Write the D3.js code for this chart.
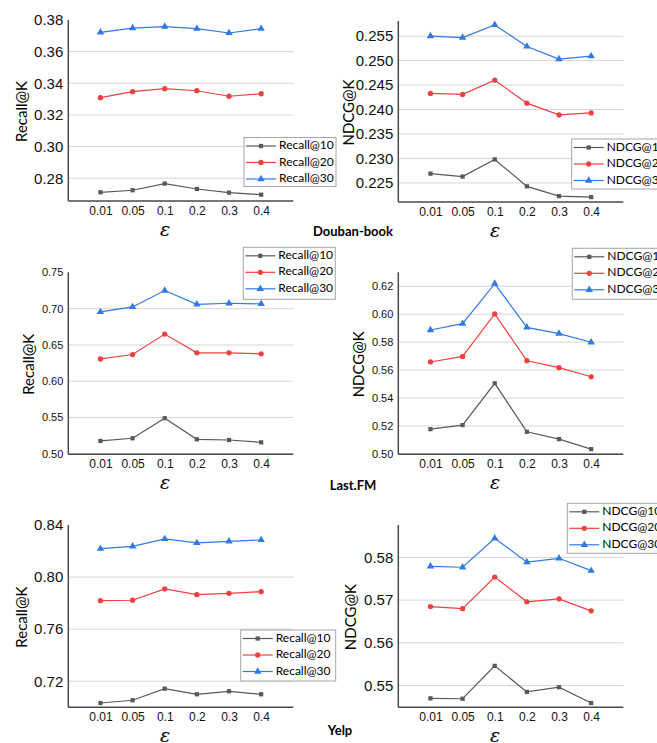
<!DOCTYPE html>
<html lang="en">
<head>
<meta charset="utf-8">
<title>Sensitivity of epsilon</title>
<script src="https://cdn.jsdelivr.net/npm/d3@7"></script>
<style>
  body { margin: 0; background: #fff; }
  svg { display: block; font-family: Lato, "Open Sans", sans-serif; }
  .grid line { stroke: #d6d6d6; stroke-width: 1; }
  .yaxis path, .xaxis path { stroke: #4a4a4a; stroke-width: 1.5; }
  .yaxis text, .xaxis text { fill: #111; }
</style>
</head>
<body>
<script>
// x categories (epsilon)
var categories = ["0.01", "0.05", "0.1", "0.2", "0.3", "0.4"];

// Douban-book
var doubanRecall10 = [0.2711, 0.2724, 0.2766, 0.2732, 0.2709, 0.2696];
var doubanRecall20 = [0.3309, 0.3347, 0.3366, 0.3353, 0.3318, 0.3334];
var doubanRecall30 = [0.3722, 0.3749, 0.3758, 0.3745, 0.3718, 0.3745];
var doubanNdcg10 = [0.2269, 0.2263, 0.2298, 0.2243, 0.2223, 0.2221];
var doubanNdcg20 = [0.2433, 0.2431, 0.2460, 0.2413, 0.2389, 0.2393];
var doubanNdcg30 = [0.2550, 0.2547, 0.2573, 0.2529, 0.2503, 0.2509];

// Last.FM
var lastfmRecall10 = [0.5176, 0.5213, 0.5490, 0.5199, 0.5189, 0.5157];
var lastfmRecall20 = [0.6308, 0.6368, 0.6650, 0.6391, 0.6391, 0.6377];
var lastfmRecall30 = [0.6955, 0.7024, 0.7250, 0.7061, 0.7075, 0.7066];
var lastfmNdcg10 = [0.5177, 0.5206, 0.5505, 0.5158, 0.5106, 0.5034];
var lastfmNdcg20 = [0.5658, 0.5698, 0.6002, 0.5667, 0.5617, 0.5552];
var lastfmNdcg30 = [0.5887, 0.5932, 0.6219, 0.5906, 0.5861, 0.5799];

// Yelp
var yelpRecall10 = [0.7033, 0.7054, 0.7143, 0.7100, 0.7123, 0.7100];
var yelpRecall20 = [0.7819, 0.7822, 0.7909, 0.7865, 0.7875, 0.7888];
var yelpRecall30 = [0.8218, 0.8236, 0.8293, 0.8262, 0.8275, 0.8285];
var yelpNdcg10 = [0.5470, 0.5469, 0.5546, 0.5485, 0.5496, 0.5459];
var yelpNdcg20 = [0.5685, 0.5680, 0.5754, 0.5696, 0.5703, 0.5675];
var yelpNdcg30 = [0.5779, 0.5777, 0.5845, 0.5789, 0.5798, 0.5769];

// y tick labels per panel
var ticksDoubanRecall = [0.28, 0.30, 0.32, 0.34, 0.36, 0.38];
var ticksDoubanNdcg = [0.225, 0.230, 0.235, 0.240, 0.245, 0.250, 0.255];
var ticksLastfmRecall = [0.50, 0.55, 0.60, 0.65, 0.70, 0.75];
var ticksLastfmNdcg = [0.50, 0.52, 0.54, 0.56, 0.58, 0.60, 0.62];
var ticksYelpRecall = [0.72, 0.76, 0.80, 0.84];
var ticksYelpNdcg = [0.55, 0.56, 0.57, 0.58];

var datasetNames = ["Douban-book", "Last.FM", "Yelp"];

var w = 657, h = 743;
var colors = ["#595959", "#f0403f", "#2f7ae5"];
var shapes = [d3.symbolSquare, d3.symbolCircle, d3.symbolTriangle];
var symSizes = [18, 22, 24];

var svg = d3.select("body").append("svg")
    .attr("width", w)
    .attr("height", h);

// panel layout
var panels = [
  {x0: 68.3, top: 20, bottom: 201, domain: [0.2656, 0.38], ticks: ticksDoubanRecall, fmt: ".2f", fs: 15,
   label: "Recall@K", labelX: 23, name: "Recall", series: [doubanRecall10, doubanRecall20, doubanRecall30],
   leg: [244, 137.5, 92, 49]},
  {x0: 398.3, top: 21, bottom: 202, domain: [0.2211, 0.2581], ticks: ticksDoubanNdcg, fmt: ".3f", fs: 15,
   label: "NDCG@K", labelX: 350, name: "NDCG", series: [doubanNdcg10, doubanNdcg20, doubanNdcg30],
   leg: [571.7, 139, 100, 50]},
  {x0: 68.3, top: 272.3, bottom: 454.3, domain: [0.4992, 0.7502], ticks: ticksLastfmRecall, fmt: ".2f", fs: 11,
   label: "Recall@K", labelX: 30, name: "Recall", series: [lastfmRecall10, lastfmRecall20, lastfmRecall30],
   leg: [243.3, 247.3, 92, 52]},
  {x0: 398.3, top: 272.3, bottom: 454.3, domain: [0.4997, 0.6300], ticks: ticksLastfmNdcg, fmt: ".2f", fs: 11,
   label: "NDCG@K", labelX: 360, name: "NDCG", series: [lastfmNdcg10, lastfmNdcg20, lastfmNdcg30],
   leg: [572.3, 248.3, 100, 51]},
  {x0: 68.3, top: 525, bottom: 707.3, domain: [0.70, 0.84], ticks: ticksYelpRecall, fmt: ".2f", fs: 15,
   label: "Recall@K", labelX: 23, name: "Recall", series: [yelpRecall10, yelpRecall20, yelpRecall30],
   leg: [240.7, 630, 95, 51]},
  {x0: 398.3, top: 525, bottom: 707.3, domain: [0.5449, 0.5876], ticks: ticksYelpNdcg, fmt: ".2f", fs: 15,
   label: "NDCG@K", labelX: 352.7, name: "NDCG", series: [yelpNdcg10, yelpNdcg20, yelpNdcg30],
   leg: [567.3, 503.3, 100, 50]}
];

var plotW = 225;

panels.forEach(function(p) {
  var g = svg.append("g");
  var x = d3.scalePoint().domain(categories).range([p.x0, p.x0 + plotW]).padding(1);
  var y = d3.scaleLinear().domain(p.domain).range([p.bottom, p.top]);

  // gridlines (not at the very top)
  g.append("g").attr("class", "grid")
    .selectAll("line")
    .data(p.ticks.filter(function(t) { return y(t) > p.top + 2; }))
    .enter().append("line")
    .attr("x1", p.x0).attr("x2", p.x0 + plotW)
    .attr("y1", function(d) { return y(d); })
    .attr("y2", function(d) { return y(d); });

  // y axis
  var ya = g.append("g").attr("class", "yaxis")
    .attr("transform", "translate(" + p.x0 + ",0)")
    .call(d3.axisLeft(y).tickValues(p.ticks).tickFormat(d3.format(p.fmt)).tickSize(0).tickPadding(5));
  ya.select(".domain").attr("d", "M0," + p.top + "V" + p.bottom);
  ya.selectAll("text").style("font-size", p.fs + "px");

  // x axis
  var xa = g.append("g").attr("class", "xaxis")
    .attr("transform", "translate(0," + p.bottom + ")")
    .call(d3.axisBottom(x).tickSize(0).tickPadding(5));
  xa.select(".domain").attr("d", "M" + p.x0 + ",0H" + (p.x0 + plotW));
  xa.selectAll("text").style("font-size", "12px");

  // y label
  g.append("text")
    .attr("transform", "translate(" + p.labelX + "," + ((p.top + p.bottom) / 2 + 1) + ") rotate(-90)")
    .attr("text-anchor", "middle")
    .attr("dominant-baseline", "middle")
    .style("font-size", "15px")
    .text(p.label);

  // epsilon label
  g.append("text")
    .attr("x", p.x0 + plotW * 0.43)
    .attr("y", p.bottom + 35)
    .attr("text-anchor", "middle")
    .style("font-family", "'DejaVu Serif', serif")
    .style("font-style", "italic")
    .style("font-size", "19px")
    .text("\u03B5");

  var line = d3.line()
    .x(function(d, i) { return x(categories[i]); })
    .y(function(d) { return y(d); });

  p.series.forEach(function(s, k) {
    g.append("path")
      .datum(s)
      .attr("fill", "none")
      .attr("stroke", colors[k])
      .attr("stroke-width", 1.2)
      .attr("d", line);
    g.selectAll(".m" + k)
      .data(s)
      .enter().append("path")
      .attr("class", "m" + k)
      .attr("transform", function(d, i) { return "translate(" + x(categories[i]) + "," + y(d) + ")"; })
      .attr("d", d3.symbol().type(shapes[k]).size(symSizes[k]))
      .attr("fill", colors[k]);
  });

  // legend
  var L = p.leg;
  var lg = g.append("g").attr("transform", "translate(" + L[0] + "," + L[1] + ")");
  lg.append("rect")
    .attr("width", L[2]).attr("height", L[3])
    .attr("fill", "#fff").attr("stroke", "#a6a6a6").attr("stroke-width", 1);
  [10, 20, 30].forEach(function(k, i) {
    var ry = 8.5 + i * 16.5;
    lg.append("line")
      .attr("x1", 2).attr("x2", 32).attr("y1", ry).attr("y2", ry)
      .attr("stroke", colors[i]).attr("stroke-width", 1.2);
    lg.append("path")
      .attr("transform", "translate(17," + ry + ")")
      .attr("d", d3.symbol().type(shapes[i]).size(symSizes[i]))
      .attr("fill", colors[i]);
    lg.append("text")
      .attr("x", 35).attr("y", ry)
      .attr("dominant-baseline", "middle")
      .style("font-size", "12px")
      .text(p.name + "@" + k);
  });
});

// dataset titles
var titlePos = [[353, 233], [353, 487], [340, 732]];
svg.selectAll(".dsname")
  .data(datasetNames)
  .enter().append("text")
  .attr("class", "dsname")
  .attr("x", function(d, i) { return titlePos[i][0]; })
  .attr("y", function(d, i) { return titlePos[i][1]; })
  .attr("text-anchor", "middle")
  .attr("dominant-baseline", "middle")
  .style("font-weight", "bold")
  .style("font-size", "13px")
  .text(function(d) { return d; });
</script>
</body>
</html>
